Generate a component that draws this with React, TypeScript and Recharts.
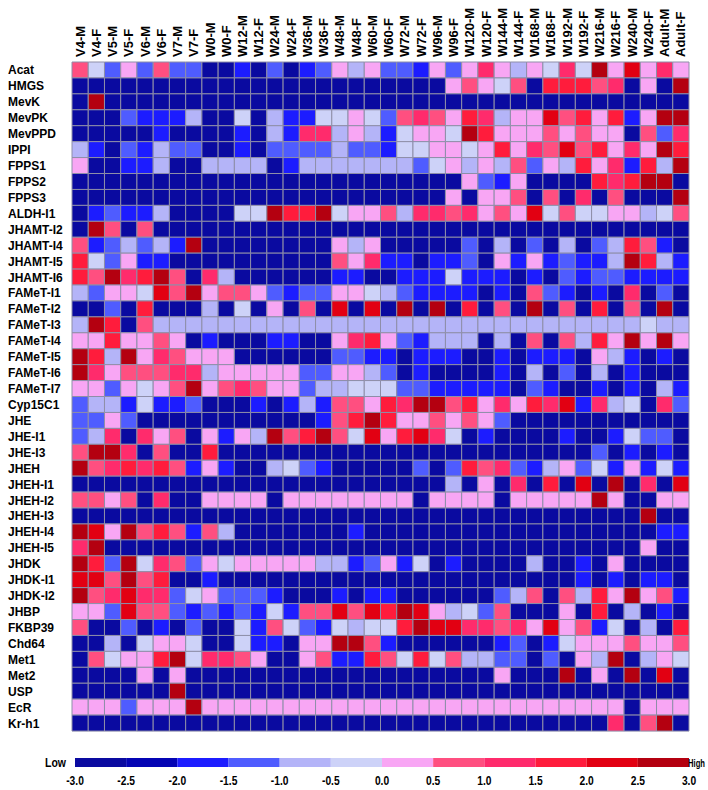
import { BarChart, Bar, XAxis, YAxis, Cell } from 'recharts';

const stages = [
  'V4-M', 'V4-F', 'V5-M', 'V5-F', 'V6-M', 'V6-F', 'V7-M', 'V7-F', 'W0-M', 'W0-F',
  'W12-M', 'W12-F', 'W24-M', 'W24-F', 'W36-M', 'W36-F', 'W48-M', 'W48-F', 'W60-M', 'W60-F',
  'W72-M', 'W72-F', 'W96-M', 'W96-F', 'W120-M', 'W120-F', 'W144-M', 'W144-F', 'W168-M', 'W168-F',
  'W192-M', 'W192-F', 'W216-M', 'W216-F', 'W240-M', 'W240-F', 'Adult-M', 'Adult-F',
];

const genes = [
  'Acat', 'HMGS', 'MevK', 'MevPK', 'MevPPD', 'IPPI', 'FPPS1', 'FPPS2', 'FPPS3', 'ALDH-I1',
  'JHAMT-I2', 'JHAMT-I4', 'JHAMT-I5', 'JHAMT-I6', 'FAMeT-I1', 'FAMeT-I2', 'FAMeT-I3', 'FAMeT-I4', 'FAMeT-I5', 'FAMeT-I6',
  'FAMeT-I7', 'Cyp15C1', 'JHE', 'JHE-I1', 'JHE-I3', 'JHEH', 'JHEH-I1', 'JHEH-I2', 'JHEH-I3', 'JHEH-I4',
  'JHEH-I5', 'JHDK', 'JHDK-I1', 'JHDK-I2', 'JHBP', 'FKBP39', 'Chd64', 'Met1', 'Met2', 'USP',
  'EcR', 'Kr-h1',
];

// z-score per stage
const acat = [0.7, -0.2, -1.2, 0.2, -1.2, 0.7, -1.2, -1.2, -2.7, -2.7, -1.7, -2.7, -1.2, -2.7, -1.7, -1.2, 0.2, -0.7, 0.2, -1.2, -1.2, -1.7, 0.2, -1.2, 0.2, 1.2, 0.2, -0.7, 0.2, -0.2, 1.2, -0.2, 2.7, 0.2, 2.2, 0.2, 1.2, 0.2];
const hmgs = [-2.7, -2.7, -2.7, -2.7, -2.7, -2.7, -2.7, -2.7, -2.7, -2.7, -2.7, -2.7, -2.7, -2.7, -2.7, -2.7, -2.7, -2.7, -2.7, -2.7, -2.7, -2.7, -2.7, 0.2, 0.7, 0.2, -0.2, 0.7, -2.7, 1.7, 1.7, 1.7, 0.7, 1.2, -2.7, 0.2, -2.7, 2.7];
const mevK = [-2.7, 2.7, -2.7, -2.7, -2.7, -2.7, -2.7, -2.7, -2.7, -2.7, -2.7, -2.7, -2.7, -2.7, -2.7, -2.7, -2.7, -2.7, -2.7, -2.7, -2.7, -2.7, -2.7, -2.7, -2.7, -2.7, -2.7, -2.7, -2.7, -2.7, -2.7, -2.7, -2.7, -2.7, -2.7, -2.7, -2.7, -2.7];
const mevPK = [-2.7, -2.7, -2.7, -1.2, -1.7, -1.7, -1.7, -0.7, -2.7, -2.7, -0.2, -2.7, -0.7, -1.7, -1.7, -0.2, -0.2, 0.2, -0.2, -1.2, 0.7, 1.2, 0.7, 0.2, 1.7, 1.2, -0.7, 0.2, 0.2, 2.2, 0.7, 1.7, 0.2, 1.7, -1.7, 0.2, 2.7, 2.7];
const mevPPD = [-2.7, -2.7, -2.7, -2.7, -2.7, -1.7, -2.7, -2.7, -2.7, -2.7, -1.7, -2.7, -0.7, -1.7, 1.2, 1.2, -0.7, 0.2, -0.7, -1.7, -0.2, 0.2, 0.2, -0.2, 2.7, 1.7, 0.2, 0.2, 0.2, 0.7, 0.2, 0.7, 0.2, 0.2, -2.7, 0.7, -1.2, 1.2];
const ippi = [-0.7, -1.7, -2.7, -1.2, -1.7, -0.7, -1.2, -1.2, -2.7, -2.7, -1.7, -2.7, -1.2, -1.2, -1.2, -1.2, -0.7, -1.2, -1.2, -1.7, -0.2, -0.2, 0.2, 0.2, -0.2, 0.2, 1.7, 0.2, 1.2, 0.7, 2.2, 0.7, 1.7, 0.2, 1.2, 0.2, 2.7, 1.7];
const fpps1 = [0.2, -2.7, -2.7, -1.7, -1.7, -0.7, -2.7, -2.7, -0.7, -0.7, -0.7, -0.7, -2.7, -1.7, -0.7, -0.7, -0.7, -0.7, -0.7, -0.7, -0.7, -1.2, -0.2, 0.2, -0.7, 0.2, -0.7, 0.7, -1.2, 0.2, -0.7, 1.7, 0.2, 1.2, -1.7, 1.7, -0.7, 2.7];
const fpps2 = [-2.7, -2.7, -2.7, -2.7, -2.7, -2.7, -2.7, -2.7, -2.7, -2.7, -2.7, -2.7, -2.7, -2.7, -2.7, -2.7, -2.7, -2.7, -2.7, -2.7, -2.7, -2.7, -2.7, -2.7, 0.2, -1.2, -1.7, 0.2, -2.7, -2.7, -2.7, -2.7, 1.7, 1.2, 1.7, 2.7, 2.7, -2.7];
const fpps3 = [-2.7, -2.7, -2.7, -2.7, -2.7, -2.7, -2.7, -2.7, -2.7, -2.7, -2.7, -2.7, -2.7, -2.7, -2.7, -2.7, -2.7, -2.7, -2.7, -2.7, -2.7, -2.7, -2.7, 0.2, -2.7, 0.2, 0.2, 0.7, -2.7, 0.7, -2.7, 1.2, -2.7, 0.7, -2.7, -2.7, -2.7, 2.7];
const aldhI1 = [-2.7, -1.7, -1.2, -1.7, -1.7, -0.7, -2.7, -2.7, -2.7, -2.7, -0.2, -0.2, 2.7, 1.7, 1.7, 2.7, -0.2, 0.2, 0.2, 0.7, -0.7, 1.2, 1.2, 0.7, 1.2, 0.2, 0.7, 0.2, 2.2, -0.2, 0.7, -0.2, -0.2, 0.2, 0.2, -0.7, -0.2, 0.7];
const jhamtI2 = [-2.7, 2.7, 0.7, -2.7, 0.7, -2.7, -2.7, -2.7, -2.7, -2.7, -2.7, -2.7, -2.7, -2.7, -2.7, -2.7, -2.7, -2.7, -2.7, -2.7, -2.7, -2.7, -2.7, -2.7, -2.7, -2.7, -2.7, -2.7, -2.7, -2.7, -2.7, -2.7, -2.7, -2.7, -2.7, -2.7, -2.7, -2.7];
const jhamtI4 = [0.7, -1.7, -1.2, -0.7, -1.2, -0.7, -1.7, 2.7, -2.7, -2.7, -2.7, -2.7, -2.7, -2.7, -2.7, -2.7, 0.2, -0.7, 0.2, -2.7, -2.7, -2.7, -2.7, -2.7, -1.2, -2.7, -0.7, -2.7, -1.2, -2.7, -0.7, -2.7, -1.2, -0.7, 1.7, 0.7, -1.7, -2.7];
const jhamtI5 = [1.7, -0.2, -1.2, 0.2, -1.7, -1.7, -2.7, -2.7, -2.7, -2.7, -2.7, -2.7, -2.7, -2.7, -2.7, -2.7, 0.7, 0.2, 1.2, -1.7, -1.7, -2.7, -1.7, -1.7, -1.2, -2.7, 0.2, -1.7, 0.2, -1.7, -1.2, -1.7, -1.7, -0.7, 2.7, 1.7, -0.7, -1.7];
const jhamtI6 = [1.7, 0.7, 2.7, 1.2, 1.7, 2.7, 0.7, -2.7, 1.2, -0.7, -2.7, -2.7, -2.7, -2.7, -2.7, -2.7, -1.7, -1.7, -2.7, -2.7, -1.7, -1.7, -1.7, -0.2, -1.7, -1.7, -1.7, -2.7, -1.7, -2.7, -1.2, -1.7, -1.2, -1.2, -1.7, -1.7, -1.7, -1.7];
const fametI1 = [-0.7, -1.2, 0.2, 0.2, -0.2, 2.2, 0.7, 2.7, 0.2, 0.7, 0.7, 0.2, -1.2, -1.7, -1.2, -1.2, 0.2, 0.2, -0.2, -0.7, -1.2, -1.7, -1.7, -1.7, -1.7, -2.7, -1.7, -2.7, 0.7, -1.2, -1.7, -2.7, -1.7, -2.7, 1.2, -2.7, -1.2, -2.7];
const fametI2 = [-2.7, -2.7, -1.2, -2.7, 1.7, -2.7, -2.7, -2.7, -0.7, -2.7, -0.2, -2.7, 0.2, -2.7, 0.7, -2.7, 2.2, -2.7, 2.2, -2.7, 2.7, -2.7, 2.7, -2.7, 1.7, -2.7, 0.7, -2.7, 2.7, -2.7, 0.7, -2.7, 1.7, -2.7, 0.7, -2.7, 2.7, -2.7];
const fametI3 = [-0.7, 2.7, 1.7, -2.7, 0.7, -0.7, -0.7, -0.7, -0.7, -0.7, -0.7, -0.7, -0.7, -0.7, -0.7, -0.7, -0.7, -0.7, -0.7, -0.7, -0.7, -0.7, -0.7, -0.7, -0.7, -0.7, -0.7, -0.7, -0.7, -0.7, -0.7, -0.7, -0.7, -0.7, -0.7, -0.2, -0.7, -0.7];
const fametI4 = [0.2, 0.2, 1.7, 0.2, 0.2, 0.7, 0.2, -2.7, -1.7, -2.7, -2.7, -2.7, -1.7, -1.7, -2.7, -2.7, 0.2, 1.2, 1.7, 0.2, -1.2, -1.7, -0.7, -0.7, -0.7, -2.7, -0.7, -2.7, 0.7, -2.7, 0.7, -0.7, 1.7, 0.2, 2.7, 0.2, 2.7, 0.2];
const fametI5 = [2.7, 1.7, -0.7, 2.7, 0.2, 1.2, 0.7, 0.2, 0.2, 0.2, -2.7, -2.7, -2.7, -2.7, -2.7, -2.7, -1.2, -1.2, -1.7, -1.7, -2.7, -1.7, -1.7, -1.7, -2.7, -2.7, -1.7, -2.7, -1.7, -1.7, -1.7, -2.7, 0.2, -0.7, -1.7, -2.7, -1.7, -2.7];
const fametI6 = [2.7, 1.2, 0.2, 0.7, 0.7, 0.7, 1.2, 1.2, -0.7, 0.2, 0.2, 0.2, 0.2, 0.2, -1.2, -1.2, 0.2, 0.2, -0.7, -1.2, -2.7, -1.7, -2.7, -2.7, -2.7, -2.7, -1.7, -2.7, -0.7, -2.7, -1.2, -2.7, -0.7, -2.7, -1.7, -2.7, -2.7, -2.7];
const fametI7 = [0.2, 0.2, -1.2, 0.2, -0.2, 0.2, 0.7, 2.7, 0.2, 0.7, 1.2, 0.7, 0.2, 0.2, -1.2, -0.7, -0.7, -0.2, -0.2, -0.2, -1.2, -1.2, -1.7, -1.7, -1.7, -1.7, -1.7, -2.7, -1.2, -1.7, -2.7, -2.7, -1.7, -2.7, -1.7, -2.7, -0.7, -1.7];
const cyp15C1 = [-1.2, -0.7, -0.7, -1.7, -0.2, -1.7, -1.7, -1.2, -2.7, -2.7, -2.7, -1.7, -2.7, -1.7, -0.7, -1.7, 0.7, 0.7, 0.2, 1.7, 1.2, 2.7, 2.7, 0.7, 1.7, 0.2, 1.2, 0.2, 1.7, 1.2, 2.2, -1.7, 1.2, -0.7, -0.2, -2.7, 1.2, -1.2];
const jhe = [-1.2, -1.2, 0.2, -1.2, -2.7, -2.7, -2.7, -2.7, -2.7, -2.7, -2.7, -2.7, -2.7, -2.7, -2.7, -1.7, 0.7, 1.7, 2.7, 1.7, 0.2, 0.2, 0.7, 0.2, 0.7, 0.2, -1.2, -2.7, -2.7, -2.7, -2.7, -2.7, -2.7, -2.7, -2.7, -2.7, -2.7, -2.7];
const jheI1 = [-1.2, -0.7, 1.2, -2.7, 1.2, 0.2, 0.7, -2.7, 0.2, -1.7, 0.2, -0.7, 2.7, 0.7, 1.7, 2.7, 0.7, -0.2, 2.2, 0.2, 1.7, 2.2, 1.2, -0.2, -2.7, -1.7, -2.7, -2.7, -2.7, -2.7, -1.7, -2.7, -2.7, -1.7, -0.2, -1.2, -1.2, -2.7];
const jheI3 = [0.7, 2.7, 2.7, 1.2, -2.7, 0.7, -2.7, -2.7, 1.7, -2.7, -2.7, -2.7, -2.7, -2.7, -2.7, -2.7, -2.7, -2.7, -2.7, -2.7, -2.7, -2.7, -2.7, -2.7, -2.7, -2.7, -2.7, -2.7, -2.7, -2.7, -2.7, -2.7, -1.2, -2.7, -1.7, -2.7, -1.7, -2.7];
const jheh = [2.7, 0.7, 1.2, 1.7, 1.2, 1.7, 0.7, -1.7, 0.2, -1.7, -2.7, -2.7, -0.7, -0.2, -1.2, -1.7, -2.7, -2.7, -2.7, -2.7, -2.7, -1.2, -2.7, -1.2, 1.7, 0.7, 1.2, -1.2, -1.7, -0.7, 0.2, -1.2, -0.2, -1.7, 0.2, -1.7, -0.2, -1.7];
const jhehI1 = [-2.7, -2.7, -2.7, -2.7, -2.7, -2.7, -2.7, -2.7, -2.7, -2.7, -2.7, -2.7, -2.7, -2.7, -2.7, -2.7, -2.7, -2.7, -2.7, -2.7, -2.7, -2.7, -2.7, -0.7, -2.7, 0.2, -2.7, 1.2, -2.7, 1.7, -2.7, 2.2, -2.7, 2.7, -2.7, 1.2, -2.7, 2.2];
const jhehI2 = [0.7, 0.7, 0.2, 0.7, -2.7, 1.2, -2.7, -2.7, 0.2, 0.2, 0.2, 0.2, -2.7, 0.2, 0.2, 0.2, 0.2, 0.2, 0.2, 0.2, 0.2, -2.7, 0.2, 0.2, 0.2, 0.2, -2.7, 0.2, 0.2, 0.2, 0.2, 0.2, 2.7, 0.2, -2.7, -2.7, 0.2, 0.2];
const jhehI3 = [-2.7, -2.7, -2.7, -2.7, -2.7, -2.7, -2.7, -2.7, -2.7, -2.7, -2.7, -2.7, -2.7, -2.7, -2.7, -2.7, -2.7, -2.7, -2.7, -2.7, -2.7, -2.7, -2.7, -2.7, -2.7, -2.7, -2.7, -2.7, -2.7, -2.7, -2.7, -2.7, -2.7, -2.7, -2.7, 2.7, -2.7, -2.7];
const jhehI4 = [2.7, 2.2, 0.2, 2.7, 0.7, 1.7, 0.7, -1.7, 0.7, -0.7, -2.7, -2.7, -2.7, -2.7, -2.7, -2.7, -2.7, -1.7, -2.7, -2.7, -2.7, -2.7, -2.7, -2.7, -2.7, -2.7, -2.7, -2.7, -2.7, -2.7, -2.7, -2.7, -2.7, -2.7, -2.7, -2.7, -1.7, -1.7];
const jhehI5 = [1.2, 2.7, -2.7, -2.7, -2.7, -2.7, -2.7, -2.7, -2.7, -2.7, -2.7, -2.7, -2.7, -2.7, -2.7, -2.7, -2.7, -2.7, -2.7, -2.7, -2.7, -2.7, -2.7, -2.7, -2.7, -2.7, -2.7, -2.7, -2.7, -2.7, -2.7, -2.7, -2.7, -2.7, -2.7, 0.2, -2.7, -2.7];
const jhdk = [2.7, 1.7, -1.2, 2.7, -0.2, 1.2, 0.7, -1.2, 0.2, -0.2, 0.2, 0.2, 0.2, 0.2, 0.2, -0.7, -0.7, -1.7, -1.2, 0.2, -1.7, -0.2, -2.7, -1.7, -2.7, -2.7, -2.7, -2.7, -0.7, -2.7, -2.7, -1.7, -2.7, 0.2, -2.7, -2.7, -2.7, -2.7];
const jhdkI1 = [2.2, 2.2, 0.7, 2.7, 0.7, 1.7, -2.7, -2.7, -1.7, -2.7, -2.7, -2.7, -2.7, -2.7, -2.7, -2.7, -2.7, -2.7, -2.7, -2.7, -2.7, -2.7, -2.7, -2.7, -2.7, -2.7, -2.7, -2.7, -2.7, -2.7, -2.7, -1.7, -2.7, -1.7, -2.7, -1.7, -1.7, -2.7];
const jhdkI2 = [2.7, 0.7, 1.2, 2.2, 1.2, 1.2, -1.2, -0.2, 0.2, -1.2, -1.2, -1.2, -1.7, -2.7, -2.7, -2.7, -1.7, -2.7, -1.7, -1.7, -2.7, -2.7, -2.7, -2.7, -2.7, -2.7, -1.2, -0.7, 0.7, -2.7, 0.7, -0.7, 1.7, 0.2, 2.7, 0.2, 0.7, -1.7];
const jhbp = [0.2, 0.2, -1.2, 2.2, 0.7, 0.7, -1.2, -1.7, -1.2, -1.7, -1.2, -1.7, -0.2, -1.7, 0.7, 0.7, 2.2, 0.7, 2.2, 1.7, 2.7, 2.2, 0.2, -0.7, -0.2, -1.2, 0.7, -2.7, -2.7, -2.7, 0.2, -2.7, 1.7, -2.7, -0.7, -2.7, -1.7, -2.7];
const fkbp39 = [0.7, -2.7, -2.7, -1.2, -2.7, -1.7, -2.7, -1.2, -2.7, -2.7, -0.2, -1.7, 0.7, -0.2, -1.2, -1.7, -0.2, -0.7, -0.2, -0.2, 1.7, 2.7, 2.2, 2.2, 1.2, 1.2, 0.7, 1.2, 0.2, 2.2, 0.2, 0.7, -1.7, -0.2, -2.7, -0.7, -2.7, 1.7];
const chd64 = [-2.7, -2.7, -0.7, -2.7, -0.2, 0.2, 0.2, -0.2, -2.7, -2.7, -0.2, -1.7, -1.7, -2.7, 0.2, 0.2, 2.7, 2.7, 0.7, -1.7, -2.7, -2.7, -2.7, -2.7, -2.7, -2.7, -1.7, -1.2, -2.7, -1.7, -0.2, 0.2, 0.2, 0.2, 0.7, 0.2, 0.2, 0.7];
const met1 = [-2.7, 0.7, -0.2, 0.2, 0.2, 1.7, 2.7, -0.2, 1.2, 1.2, 0.7, 0.2, -2.7, -2.7, 0.2, 0.7, -1.7, -1.7, 1.7, 0.7, -0.2, 1.7, -0.2, 0.7, -0.7, -0.7, -1.2, -1.2, -2.7, -1.2, -2.7, 0.2, -0.7, 2.7, -2.7, -0.7, 0.2, -0.2];
const met2 = [-2.7, -2.7, -2.7, -2.7, 0.2, -2.7, 0.2, -2.7, -2.7, -2.7, -2.7, -2.7, -2.7, -2.7, -2.7, -2.7, -2.7, -2.7, -2.7, -2.7, -2.7, -2.7, -2.7, -2.7, -2.7, -2.7, 0.2, -2.7, -2.7, -2.7, 2.7, -2.7, 0.2, -2.7, 2.7, -2.7, 2.2, -2.7];
const usp = [-2.7, -2.7, -2.7, -2.7, -2.7, -2.7, 2.7, -2.7, -2.7, -2.7, -2.7, -2.7, -2.7, -2.7, -2.7, -2.7, -2.7, -2.7, -2.7, -2.7, -2.7, -2.7, -2.7, -2.7, -2.7, -2.7, -2.7, -2.7, -2.7, -2.7, -2.7, -2.7, -2.7, -2.7, -2.7, -2.7, -2.7, -2.7];
const ecr = [0.2, 0.2, 0.2, -1.2, 0.2, 0.2, 0.2, 2.7, 0.2, 0.2, 0.2, 0.2, 0.2, 0.2, 0.2, 0.2, 0.2, 0.2, 0.2, 0.2, 0.2, 0.2, 0.2, 0.2, 0.2, 0.2, 0.2, 0.2, 0.2, 0.2, 0.2, 0.2, 0.2, 0.2, -2.7, 0.2, 0.2, 0.2];
const krH1 = [-2.7, -2.7, -2.7, -2.7, -2.7, -2.7, -2.7, -2.7, -2.7, -2.7, -2.7, -2.7, -2.7, -2.7, -2.7, -2.7, -2.7, -2.7, -2.7, -2.7, -2.7, -2.7, -2.7, -2.7, -2.7, -2.7, -2.7, -2.7, -2.7, -2.7, -2.7, -2.7, -2.7, 1.2, -2.7, 0.7, 2.7, -2.7];

const expression = [
  acat, hmgs, mevK, mevPK, mevPPD, ippi, fpps1, fpps2, fpps3, aldhI1,
  jhamtI2, jhamtI4, jhamtI5, jhamtI6, fametI1, fametI2, fametI3, fametI4, fametI5, fametI6,
  fametI7, cyp15C1, jhe, jheI1, jheI3, jheh, jhehI1, jhehI2, jhehI3, jhehI4,
  jhehI5, jhdk, jhdkI1, jhdkI2, jhbp, fkbp39, chd64, met1, met2, usp,
  ecr, krH1,
];

const scaleTicks = [-3.0, -2.5, -2.0, -1.5, -1.0, -0.5, 0.0, 0.5, 1.0, 1.5, 2.0, 2.5, 3.0];
const scaleColors = [
  '#0a0aa0', '#0404b4', '#1c1cff', '#4f5cff', '#b4b4f8', '#cdd2f8',
  '#f8a6f4', '#ff4f80', '#ff2b6c', '#ff1c3c', '#e20012', '#b40010',
];

const FONT = "'Liberation Sans', Arial, sans-serif";

function colorOf(v: number) {
  const lo = scaleTicks[0];
  const step = scaleTicks[1] - scaleTicks[0];
  const i = Math.min(scaleColors.length - 1, Math.max(0, Math.floor((v - lo) / step)));
  return scaleColors[i];
}

// every cell is one unit wide; colour comes from the value
const gridData = genes.map((gene) => {
  const row: Record<string, string | number> = { gene };
  stages.forEach((_, c) => {
    row[`s${c}`] = 1;
  });
  return row;
});

const legendRow: Record<string, number> = {};
scaleColors.forEach((_, i) => {
  legendRow[`b${i}`] = scaleTicks[i + 1] - scaleTicks[i];
});
const legendData = [legendRow];

function StageTick({ x, y, payload }: any) {
  return (
    <text
      transform={`translate(${x + 4.5},${y + 3}) rotate(-90)`}
      textAnchor="start"
      fontSize={13}
      fontWeight="bold"
      fontFamily={FONT}
      fill="#000"
    >
      {stages[Math.floor(payload.value)]}
    </text>
  );
}

function GeneTick({ y, payload }: any) {
  return (
    <text x={8} y={y} dy={4.5} textAnchor="start" fontSize={12} fontWeight="bold" fontFamily={FONT} fill="#000">
      {payload.value}
    </text>
  );
}

// condensed look of the scale numbers
function ScaleTick({ x, y, payload }: any) {
  return (
    <text
      transform={`translate(${x},${y}) scale(0.82,1)`}
      dy={10}
      textAnchor="middle"
      fontSize={12.5}
      fontWeight="bold"
      fontFamily={FONT}
      fill="#000"
    >
      {(payload.value + scaleTicks[0]).toFixed(1)}
    </text>
  );
}

export default function App() {
  return (
    <div style={{ position: 'absolute', left: 0, top: 0, width: 708, height: 790, background: '#fff', overflow: 'hidden' }}>
      <BarChart
        width={708}
        height={740}
        data={gridData}
        layout="vertical"
        margin={{ top: 8, right: 19, bottom: 9, left: 8 }}
        barCategoryGap={0}
        barGap={0}
      >
        <XAxis
          type="number"
          orientation="top"
          domain={[0, stages.length]}
          ticks={stages.map((_, i) => i + 0.5)}
          interval={0}
          height={54}
          tick={<StageTick />}
          tickLine={false}
          axisLine={false}
        />
        <YAxis
          type="category"
          dataKey="gene"
          width={64}
          interval={0}
          tick={<GeneTick />}
          tickLine={false}
          axisLine={false}
        />
        {stages.map((s, c) => (
          <Bar key={s} dataKey={`s${c}`} stackId="grid" isAnimationActive={false}>
            {genes.map((g, r) => (
              <Cell key={g} fill={colorOf(expression[r][c])} stroke="#8e8ea8" strokeWidth={1} />
            ))}
          </Bar>
        ))}
      </BarChart>

      <div style={{ position: 'absolute', left: 0, top: 753 }}>
        <BarChart
          width={708}
          height={40}
          data={legendData}
          layout="vertical"
          margin={{ top: 5, right: 19, bottom: 0, left: 75 }}
          barCategoryGap={0}
        >
          <XAxis
            type="number"
            domain={[0, scaleTicks[scaleTicks.length - 1] - scaleTicks[0]]}
            ticks={scaleTicks.map((t) => t - scaleTicks[0])}
            interval={0}
            height={26}
            tickLine={false}
            axisLine={false}
            tick={<ScaleTick />}
          />
          <YAxis type="category" hide />
          {scaleColors.map((col, i) => (
            <Bar key={col} dataKey={`b${i}`} stackId="scale" fill={col} isAnimationActive={false} />
          ))}
        </BarChart>
      </div>
      <svg width={708} height={30} style={{ position: 'absolute', left: 0, top: 750 }}>
        <text x={45} y={17} fontSize={12} fontWeight="bold" fontFamily={FONT} textLength={21} lengthAdjust="spacingAndGlyphs">
          Low
        </text>
        <text x={688} y={17} fontSize={11.5} fontWeight="bold" fontFamily={FONT} textLength={17} lengthAdjust="spacingAndGlyphs">
          High
        </text>
      </svg>
    </div>
  );
}
